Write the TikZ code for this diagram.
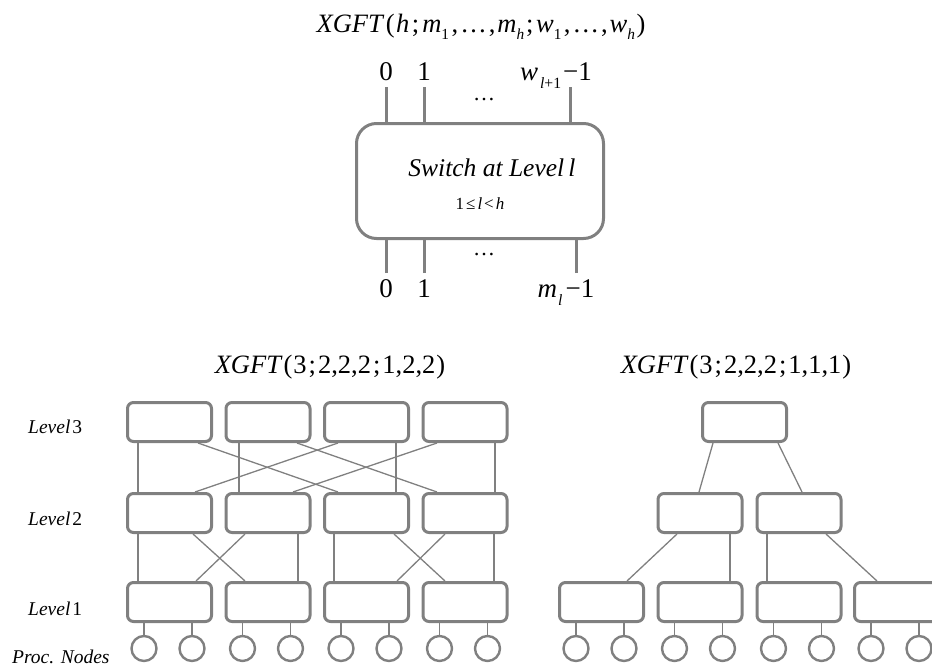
\documentclass[tikz,border=0pt]{standalone}
\usepackage{fontspec}
\setmainfont{Liberation Serif}
\definecolor{linegray}{RGB}{128,128,128}
% lowered, reduced index in the running text size
\newcommand\idx[1]{\raisebox{-0.3em}{\scalebox{0.58}{#1}}}
% wire from a port on the lower side of one switch to a port on the upper side of another
\newcommand\link[4]{\draw[wire] ([xshift=#2pt]#1.south) -- ([xshift=#4pt]#3.north);}
\begin{document}
\begin{tikzpicture}[x=1pt,y=-1pt,
  swbig/.style={draw=linegray,line width=3pt,rounded corners=20pt,minimum width=247pt,minimum height=115pt,inner sep=0pt},
  swbox/.style={draw=linegray,line width=3pt,rounded corners=6pt,minimum width=84pt,minimum height=39pt,inner sep=0pt},
  proc/.style={draw=linegray,line width=2.4pt,circle,minimum size=25pt,inner sep=0pt},
  port/.style={draw=linegray,line width=3pt},
  wire/.style={draw=linegray,line width=1.3pt},
  lvl/.style={font=\fontsize{19.5}{19.5}\selectfont,anchor=base west,inner sep=0pt},
  ttl/.style={font=\fontsize{26.5}{26.5}\selectfont,anchor=base,inner sep=0pt},
  num/.style={font=\fontsize{27}{27}\selectfont,anchor=base,inner sep=0pt}]
\useasboundingbox (0,0) rectangle (932,667);
\clip (0,0) rectangle (932,667);

% ---------------- generic switch ----------------
\node[ttl] (title) at (481,32) {\textit{XGFT}\kern1.5pt(\kern1.5pt\textit{h}\kern2.5pt;\kern3pt\textit{m}\idx{1}\kern2.5pt,\kern2pt…\kern2pt,\kern2pt\textit{m}\idx{\textit{h}}\kern2pt;\kern2.5pt\textit{w}\idx{1}\kern2.5pt,\kern2pt…\kern2pt,\kern2pt\textit{w}\idx{\textit{h}}\kern1.5pt)};
\node[swbig] (sw) at (480,181) {};
\node[font=\fontsize{25.5}{25.5}\selectfont\itshape] (swname) at (492,168) {Switch at Level\,l};
\node[font=\fontsize{17}{17}\selectfont,anchor=base,inner sep=0pt] (swrange) at (480,209) {1\kern2pt≤\kern2pt\textit{l}\kern2pt<\kern2pt\textit{h}};

\coordinate (u0) at (386,87);
\coordinate (u1) at (424,87);
\coordinate (uw) at (570,87);
\coordinate (d0) at (386,273);
\coordinate (d1) at (424,273);
\coordinate (dm) at (576,273);
\foreach \p in {u0,u1,uw} \draw[port] (\p) -- (\p |- sw.north);
\foreach \p in {d0,d1,dm} \draw[port] (\p) -- (\p |- sw.south);

\node[num] (l0) at (386,80) {0};
\node[num] (l1) at (424,80) {1};
\node[num] (lw) at (556,80) {\textit{w}\kern2pt\idx{\textit{l}+1}\kern2pt−1};
\node[font=\fontsize{22}{22}\selectfont] (dotsu) at (484,100) {…};
\node[font=\fontsize{22}{22}\selectfont] (dotsd) at (484,255) {…};
\node[num] (b0) at (386,297) {0};
\node[num] (b1) at (424,297) {1};
\node[num] (bm) at (566,297) {\textit{m}\kern1pt\idx{\textit{l}}\kern3pt−1};

% ---------------- level labels ----------------
\node[lvl] (lv3) at (28,433) {\textit{Level}\kern2pt3};
\node[lvl] (lv2) at (28,525) {\textit{Level}\kern2pt2};
\node[lvl] (lv1) at (28,615) {\textit{Level}\kern2pt1};
\node[lvl] (lvp) at (12,663) {\textit{Proc. Nodes}};

% ---------------- XGFT(3;2,2,2;1,2,2) ----------------
\node[ttl] (tA) at (330,373) {\textit{XGFT}\kern1pt(\kern1pt3\kern2pt;\kern2pt2,2,2\kern2pt;\kern2pt1,2,2\kern1pt)};
\foreach \i/\cx in {1/169.5,2/268,3/366.5,4/465} {
  \node[swbox] (a3\i) at (\cx,422) {};
  \node[swbox] (a2\i) at (\cx,513) {};
  \node[swbox] (a1\i) at (\cx,602) {};
  \node[proc] (pa\i l) at (\cx-25.5,648.5) {};
  \node[proc] (pa\i r) at (\cx+22.5,648.5) {};
  \draw[wire] (pa\i l.north) -- (pa\i l.north |- a1\i.south);
  \draw[wire] (pa\i r.north) -- (pa\i r.north |- a1\i.south);
}
% level 3 to level 2
\link{a31}{-31.5}{a21}{-31.5}
\link{a31}{28.5}{a23}{-28.5}
\link{a32}{-29}{a22}{-29}
\link{a32}{29}{a24}{-28}
\link{a33}{-28.5}{a21}{25.5}
\link{a33}{29.5}{a23}{29.5}
\link{a34}{-28}{a22}{25}
\link{a34}{30}{a24}{30}
% level 2 to level 1
\link{a21}{-31.5}{a11}{-31.5}
\link{a21}{23.5}{a12}{-23}
\link{a22}{-23}{a11}{26.5}
\link{a22}{30}{a12}{30}
\link{a23}{-32.5}{a13}{-32.5}
\link{a23}{27.5}{a14}{-20}
\link{a24}{-20}{a13}{30.5}
\link{a24}{29}{a14}{29}

% ---------------- XGFT(3;2,2,2;1,1,1) ----------------
\node[ttl] (tB) at (736,373) {\textit{XGFT}\kern1pt(\kern1pt3\kern2pt;\kern2pt2,2,2\kern2pt;\kern2pt1,1,1\kern1pt)};
\node[swbox] (b3) at (744.5,422) {};
\node[swbox] (b21) at (700,513) {};
\node[swbox] (b22) at (799,513) {};
\foreach \i/\cx in {1/601.5,2/700,3/799,4/896.5} {
  \node[swbox] (b1\i) at (\cx,602) {};
  \node[proc] (pb\i l) at (\cx-25.5,648.5) {};
  \node[proc] (pb\i r) at (\cx+22.5,648.5) {};
  \draw[wire] (pb\i l.north) -- (pb\i l.north |- b1\i.south);
  \draw[wire] (pb\i r.north) -- (pb\i r.north |- b1\i.south);
}
\link{b3}{-31.5}{b21}{-1}
\link{b3}{33.5}{b22}{3}
\link{b21}{-23}{b11}{25.5}
\link{b21}{30}{b12}{30}
\link{b22}{-32}{b13}{-32}
\link{b22}{27}{b14}{-19.5}
\end{tikzpicture}
\end{document}
